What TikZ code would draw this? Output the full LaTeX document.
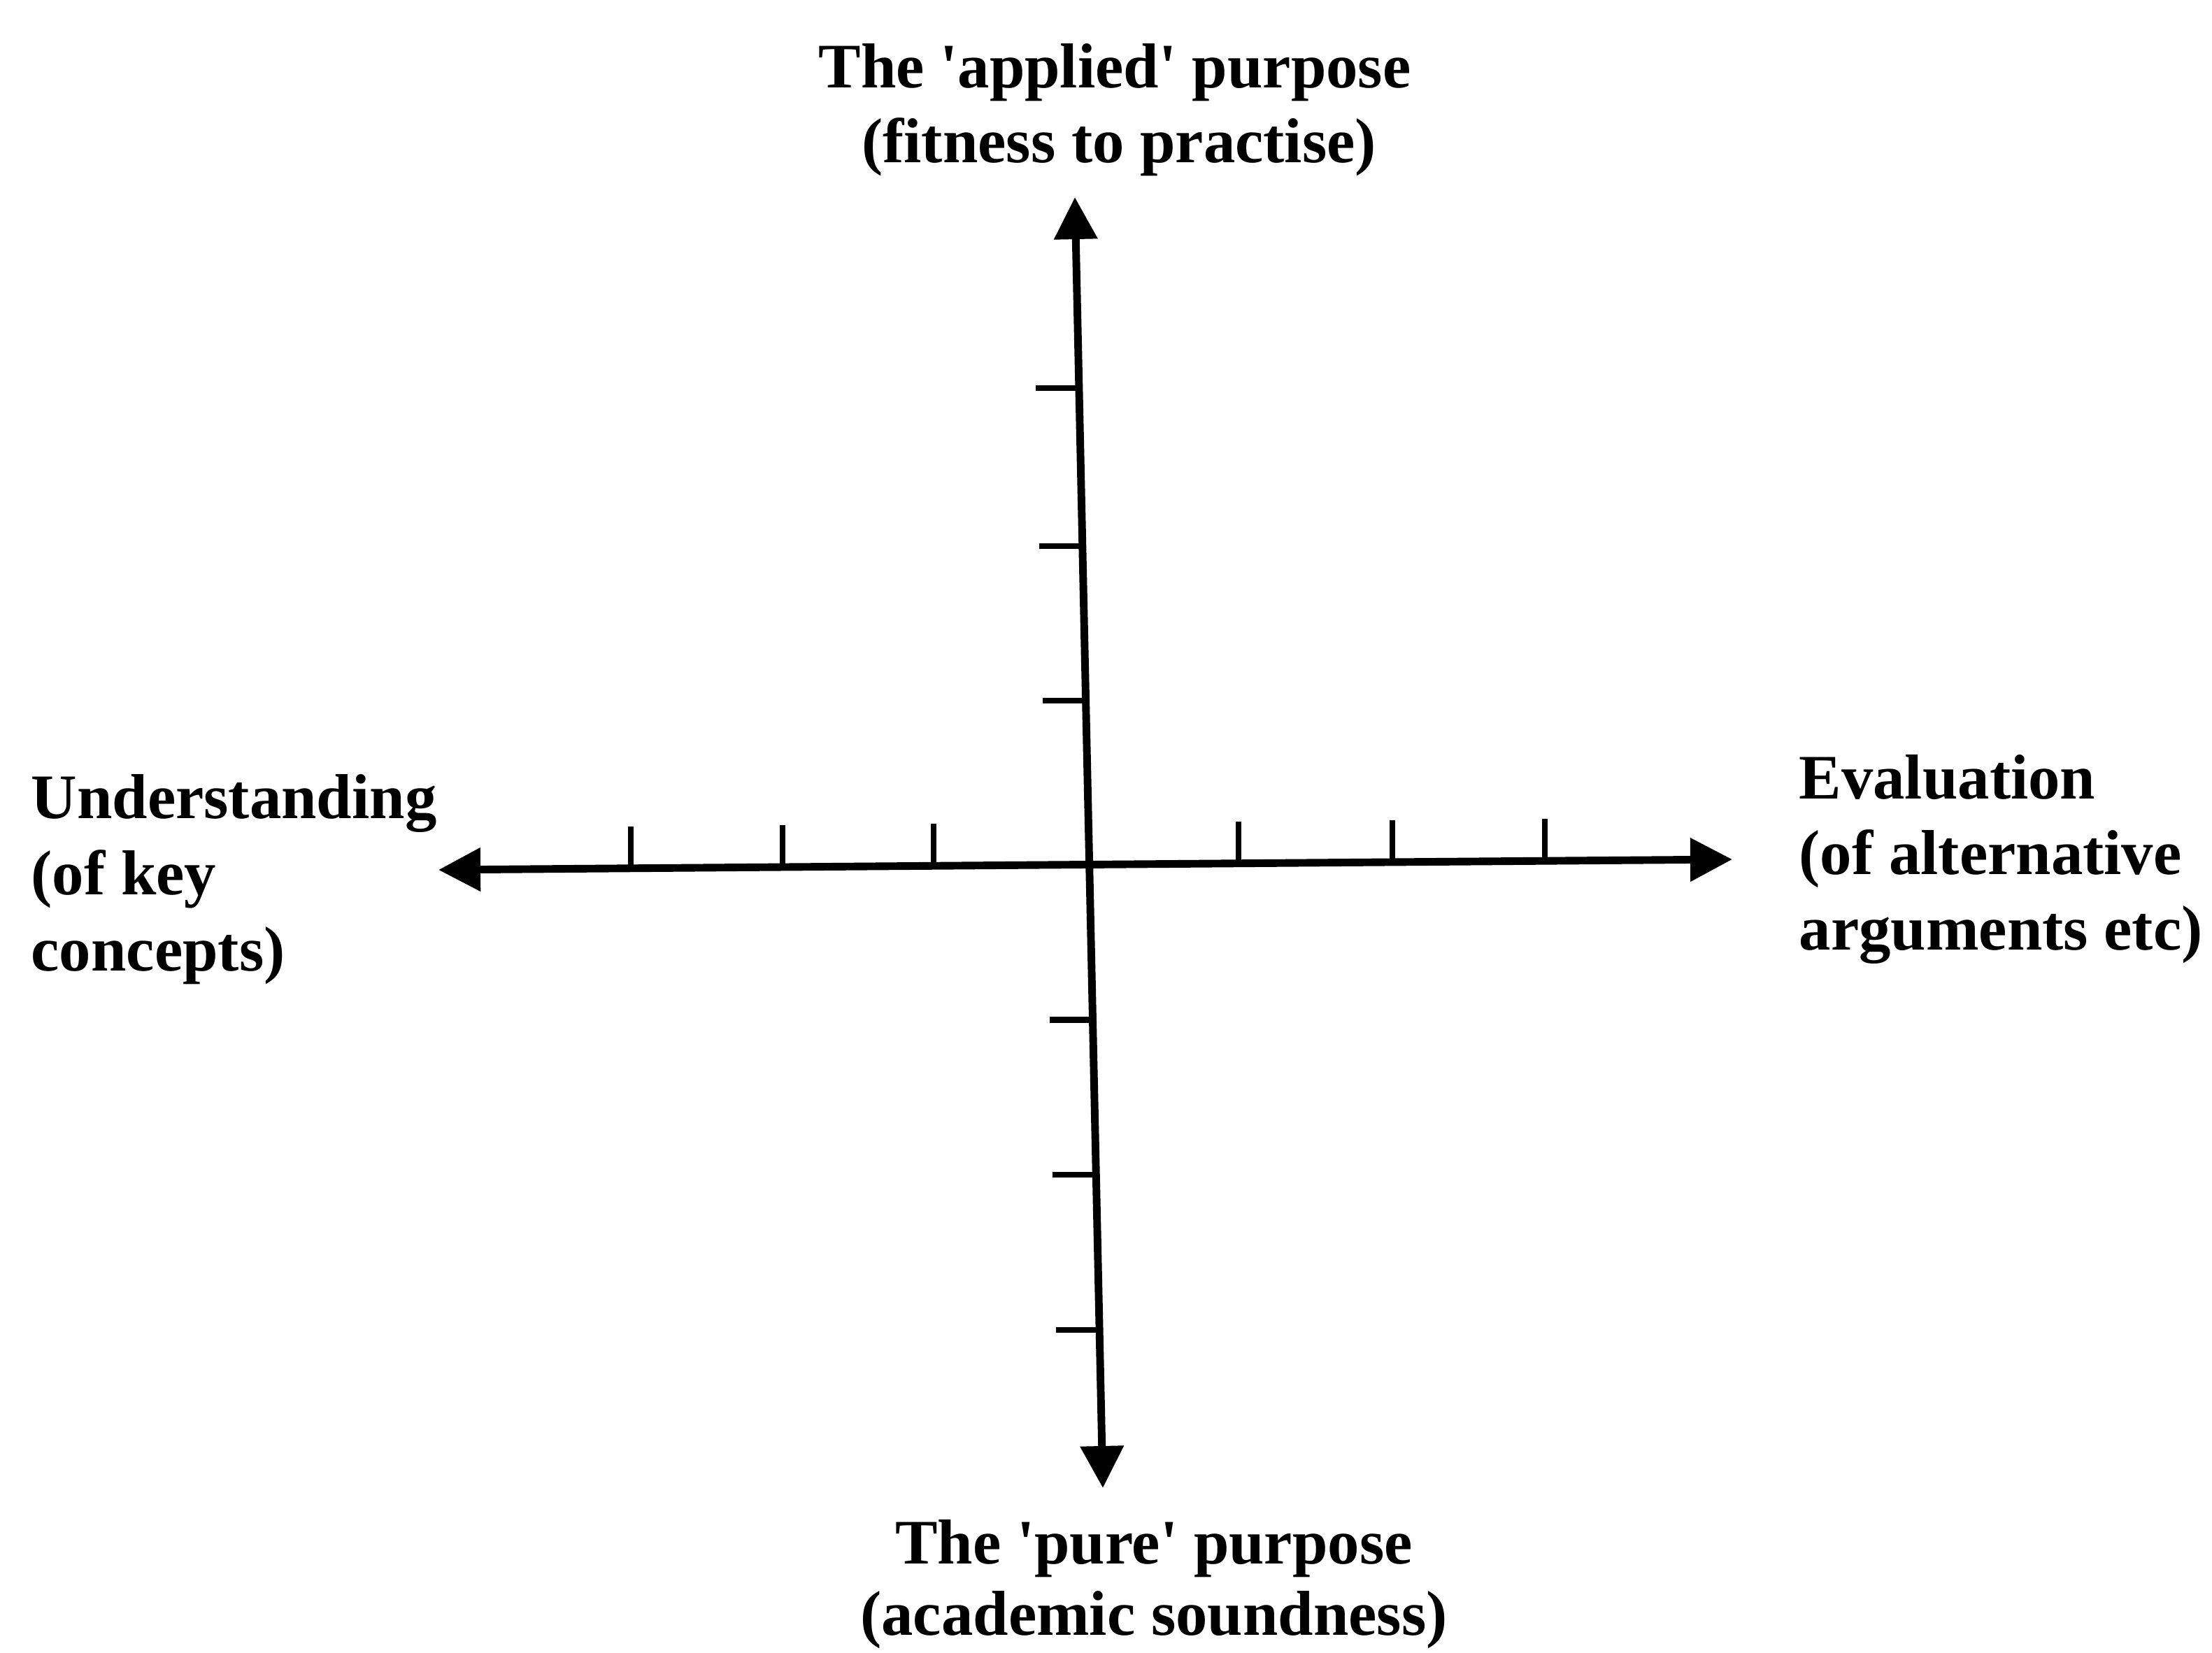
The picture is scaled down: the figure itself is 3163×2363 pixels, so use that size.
\documentclass[tikz,border=0pt]{standalone}
\usepackage{fontspec}
\setmainfont{Liberation Serif}
\usetikzlibrary{arrows.meta,calc}
\begin{document}
\begin{tikzpicture}[x=0.01cm,y=-0.01cm,
  axis/.style={line width=3.1pt,
    {Triangle[length=0.6cm,width=0.6cm]}-{Triangle[length=0.6cm,width=0.6cm]}},
  tickmark/.style={line width=2.5pt},
  lbl/.style={font=\fontsize{25.8}{31}\selectfont\bfseries, inner sep=0pt}]
\useasboundingbox[fill=white] (0,0) rectangle (3163,2363);
\coordinate (L) at (627,1244);
\coordinate (R) at (2477,1229);
\coordinate (T) at (1537,282);
\coordinate (B) at (1577,2128);
\draw[axis] (L) -- (R);
\draw[axis] (T) -- (B);
\foreach \t in {0.1486,0.2659,0.3827,0.6184,0.7373,0.8551}
  \draw[tickmark] ($(L)!\t!(R)$) -- ++(0,-60);
\foreach \t in {0.1479,0.2703,0.3900,0.6371,0.7573,0.8776}
  \draw[tickmark] ($(T)!\t!(B)$) -- ++(-62,0);
\node[lbl, anchor=base] (top1) at (1594,125) {The \textquotesingle applied\textquotesingle\ purpose};
\node[lbl, anchor=base] (top2) at (1600,232) {(fitness to practise)};
\node[lbl, anchor=base west] (left1) at (44,1170) {Understanding};
\node[lbl, anchor=base west] (left2) at (44,1279) {(of key};
\node[lbl, anchor=base west] (left3) at (44,1388) {concepts)};
\node[lbl, anchor=base west] (right1) at (2572,1142) {Evaluation};
\node[lbl, anchor=base west] (right2) at (2572,1250) {(of alternative};
\node[lbl, anchor=base west] (right3) at (2572,1358) {arguments etc)};
\node[lbl, anchor=base] (bot1) at (1650,2236) {The \textquotesingle pure\textquotesingle\ purpose};
\node[lbl, anchor=base] (bot2) at (1650,2338) {(academic soundness)};
\end{tikzpicture}
\end{document}
